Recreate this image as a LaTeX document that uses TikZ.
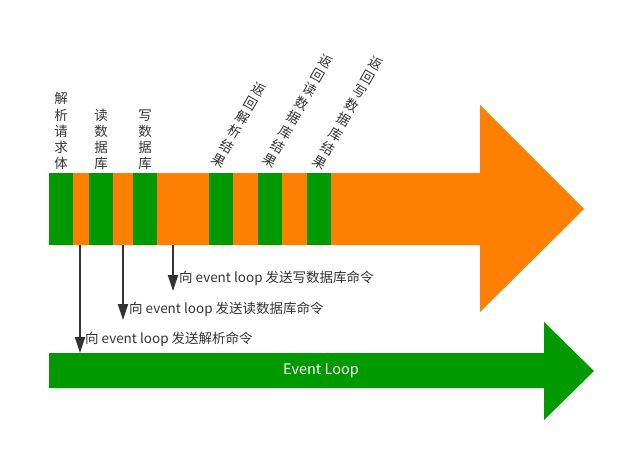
\documentclass[tikz,border=0pt]{standalone}
\usepackage{fontspec}
\setmainfont{Noto Sans CJK SC}
\usetikzlibrary{arrows.meta}
\definecolor{flow}{RGB}{255,128,0}
\definecolor{stage}{RGB}{0,153,0}
\definecolor{ink}{RGB}{51,51,51}

\begin{document}
\begin{tikzpicture}[x=1pt, y=-1pt,
    lbl/.style={text=ink, font=\fontsize{13.5}{16.2}\selectfont, inner sep=0pt, align=center},
    cmd/.style={text=ink, font=\fontsize{13.5}{16}\selectfont, inner sep=0pt, anchor=west},
    send/.style={ink, line width=2pt, -{Triangle[length=16pt, width=10pt]}}]
  \useasboundingbox (0, 0) rectangle (626, 451);
  \def\Main{(49, 173) -- (480, 173) -- (480, 105) -- (584, 209) -- (480, 312) -- (480, 245) -- (49, 245) -- cycle}
  \def\Loop{(49, 353) -- (544, 353) -- (544, 322) -- (594, 371) -- (544, 420) -- (544, 388) -- (49, 388) -- cycle}

  \fill[flow] \Main; %A: Request arrow
  \foreach \a/\b in {49/73, 89/113, 133/157, 209/233, 258/282, 307/331}
    \fill[stage] (\a, 173) rectangle (\b, 245); %A: Green stages
  \fill[stage] \Loop; %A: Event loop arrow
  \node[text=white, font=\fontsize{14.5}{16}\selectfont] (loop) at (321, 371) {Event Loop};

  %A: Stage labels
  \node[lbl, anchor=south] (parse) at (61, 170) {解\\析\\请\\求\\体};
  \node[lbl, anchor=south] (read) at (101, 170) {读\\数\\据\\库};
  \node[lbl, anchor=south] (write) at (145, 170) {写\\数\\据\\库};
  \node[lbl, rotate=-30] (rparse) at (239, 125) {返\\回\\解\\析\\结\\果};
  \node[lbl, rotate=-30] (rread) at (298, 111) {返\\回\\读\\数\\据\\库\\结\\果};
  \node[lbl, rotate=-30] (rwrite) at (348, 113) {返\\回\\写\\数\\据\\库\\结\\果};

  %A: Commands sent to the event loop
  \coordinate (s1) at (80, 245);
  \coordinate (s2) at (123, 245);
  \coordinate (s3) at (173, 245);
  \coordinate (t1) at (80, 353);
  \coordinate (t2) at (123, 320);
  \coordinate (t3) at (173, 291);
  \node[cmd] (c1) at (85, 339) {向 event loop 发送解析命令};
  \node[cmd] (c2) at (129, 309) {向 event loop 发送读数据库命令};
  \node[cmd] (c3) at (179, 278) {向 event loop 发送写数据库命令};
  \draw[send] (s1) -- (t1);
  \draw[send] (s2) -- (t2);
  \draw[send] (s3) -- (t3);
\end{tikzpicture}
\end{document}
